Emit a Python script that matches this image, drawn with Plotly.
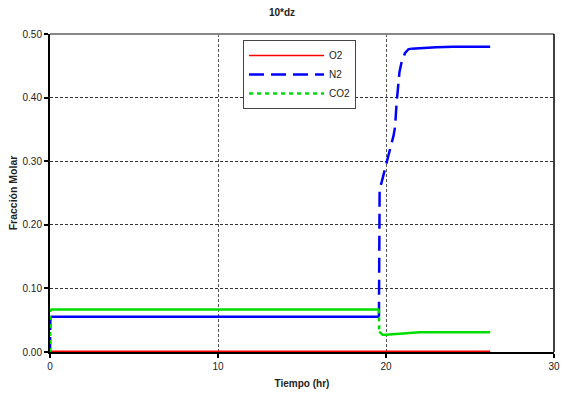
import plotly.graph_objects as go

# Tiempo (hr) and molar fractions
t_o2 = [0.0, 26.2]
o2 = [0.0012, 0.0012]

# N2: start-up rise, step at ~19.6 h and ramp (dashed), plateaus (solid)
t_n2_step = [0.0, 0.02, None, 19.58, 19.58, 19.62, 19.75, 20.04, 20.28, 20.44, 20.54,
             20.63, 20.69, 20.8, 20.93, 21.13, 21.33, 21.5]
n2_step = [0.0, 0.0555, None, 0.0555, 0.25, 0.256, 0.268, 0.30, 0.323, 0.339, 0.354,
           0.391, 0.412, 0.44, 0.456, 0.47, 0.476, 0.477]
t_n2_flat = [0.02, 19.58, None, 21.5, 22.0, 23.0, 24.0, 25.0, 26.2]
n2_flat = [0.0555, 0.0555, None, 0.477, 0.478, 0.479, 0.48, 0.48, 0.48]

# CO2: start-up rise and drop at ~19.6 h (dashed), plateaus (solid)
t_co2_step = [0.0, 0.02, None, 19.58, 19.6]
co2_step = [0.0, 0.067, None, 0.067, 0.032]
t_co2_flat = [0.02, 19.58, None, 19.6, 19.8, 20.0, 20.5, 21.0, 22.0, 24.0, 26.2]
co2_flat = [0.067, 0.067, None, 0.032, 0.027, 0.027, 0.028, 0.030, 0.031, 0.031, 0.031]

x_ticks = [0, 10, 20, 30]
y_ticks = [0.0, 0.1, 0.2, 0.3, 0.4, 0.5]

RED, BLUE, GREEN = "#ff0000", "#0000ff", "#00dd00"
W = 2.5

fig = go.Figure()
fig.add_trace(go.Scatter(x=t_o2, y=o2, mode="lines", name="O2",
                         line=dict(color=RED, width=1.5)))
fig.add_trace(go.Scatter(x=t_n2_step, y=n2_step, mode="lines", name="N2",
                         connectgaps=False, legendgroup="n2",
                         line=dict(color=BLUE, width=W, dash="15px,7px")))
fig.add_trace(go.Scatter(x=t_n2_flat, y=n2_flat, mode="lines", name="N2",
                         connectgaps=False, legendgroup="n2", showlegend=False,
                         line=dict(color=BLUE, width=W)))
fig.add_trace(go.Scatter(x=t_co2_step, y=co2_step, mode="lines", name="CO2",
                         connectgaps=False, legendgroup="co2",
                         line=dict(color=GREEN, width=W, dash="4px,4px")))
fig.add_trace(go.Scatter(x=t_co2_flat, y=co2_flat, mode="lines", name="CO2",
                         connectgaps=False, legendgroup="co2", showlegend=False,
                         line=dict(color=GREEN, width=W)))

font = "Liberation Sans, Arial, sans-serif"

fig.update_layout(
    width=564, height=393,
    margin=dict(l=50, r=10, t=34, b=41),
    paper_bgcolor="white", plot_bgcolor="white",
    font=dict(family=font, size=10, color="#222"),
    title=dict(text="<b>10*dz</b>", x=0.5, xanchor="center", y=0.967, yanchor="middle",
               font=dict(family=font, size=10, color="#222")),
    showlegend=True,
    legend=dict(x=0.383, y=0.981, xanchor="left", yanchor="top",
                bgcolor="white", bordercolor="#444", borderwidth=1,
                font=dict(family=font, size=10, color="#222"),
                itemwidth=75, tracegroupgap=0, groupclick="togglegroup"),
    xaxis=dict(range=[0, 30], tickvals=x_ticks, ticktext=[str(v) for v in x_ticks],
               automargin=False,
               showline=True, linecolor="black", linewidth=2, mirror=False,
               ticks="outside", ticklen=4, tickwidth=2, tickcolor="black",
               showgrid=True, gridcolor="#555", griddash="3px,2px", gridwidth=1,
               zeroline=False,
               title=dict(text="<b>Tiempo (hr)</b>", standoff=9,
                          font=dict(family=font, size=10, color="#222"))),
    yaxis=dict(range=[0, 0.5], tickvals=y_ticks, tickformat=".2f",
               automargin=False,
               showline=True, linecolor="black", linewidth=2, mirror=False,
               ticks="outside", ticklen=4, tickwidth=2, tickcolor="black",
               showgrid=True, gridcolor="#333", griddash="3px,2px", gridwidth=1,
               zeroline=False,
               title=dict(text="<b>Fracción Molar</b>", standoff=3,
                          font=dict(family=font, size=10.5, color="#222"))),
)

# Frame: gray top edge, black right edge
fig.add_shape(type="line", xref="paper", yref="paper", x0=0, x1=1, y0=1, y1=1,
              line=dict(color="#888", width=2))
fig.add_shape(type="line", xref="paper", yref="paper", x0=1, x1=1, y0=0, y1=1,
              line=dict(color="black", width=1.5))

fig.write_html("out.html")
